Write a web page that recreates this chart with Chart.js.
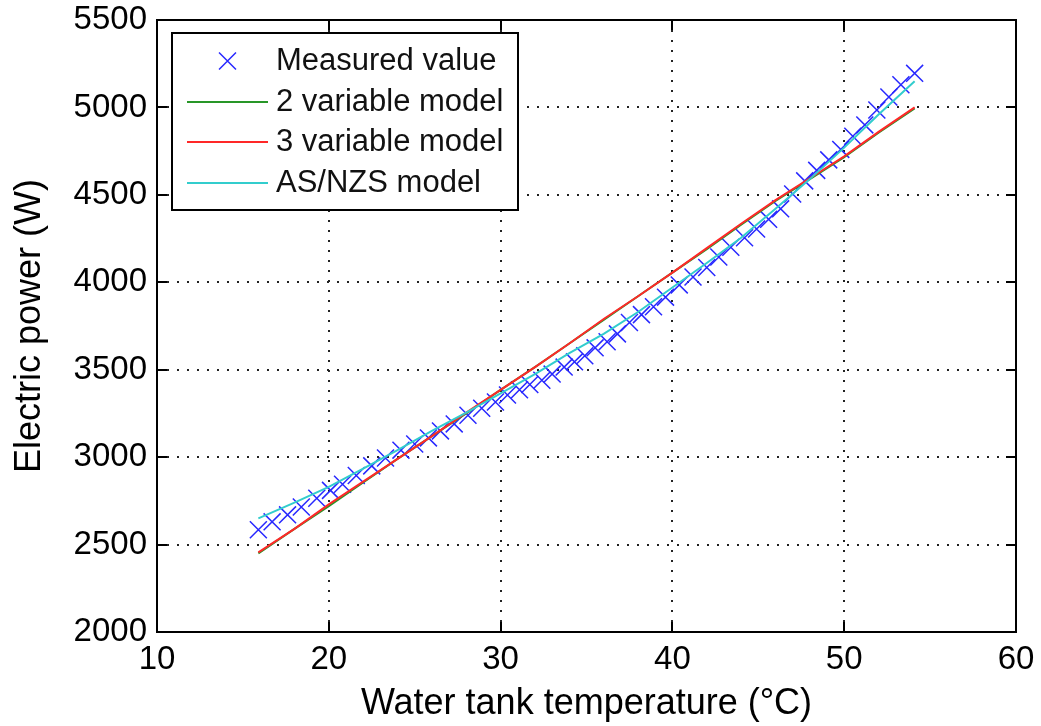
<!DOCTYPE html>
<html>
<head>
  <meta charset="utf-8">
  <title>Electric power vs water tank temperature</title>
  <script src="https://cdn.jsdelivr.net/npm/chart.js"></script>
  <style>
    body { margin: 0; background: #fff; }
  </style>
</head>
<body>
  <canvas id="chart" width="1041" height="726"></canvas>

  <script>
    // measured points (deg C, W)
    const measuredTemp = [15.9, 16.7, 17.6, 18.4, 19.3, 20.1, 20.8, 21.6, 22.5, 23.3,
      24.2, 25.0, 25.8, 26.5, 27.3, 28.1, 28.9, 29.7, 30.4, 31.1,
      31.7, 32.4, 33.0, 33.7, 34.3, 34.9, 35.5, 36.2, 36.8, 37.5,
      38.2, 38.9, 39.6, 40.4, 41.2, 42.0, 42.7, 43.4, 44.2, 44.9,
      45.6, 46.3, 47.0, 47.7, 48.4, 49.1, 49.8, 50.5, 51.2, 51.9,
      52.6, 53.3, 54.1];
    const measuredPower = [2585, 2630, 2670, 2715, 2765, 2810, 2845, 2895, 2950, 2995,
      3040, 3075, 3110, 3150, 3190, 3240, 3280, 3315, 3355, 3385,
      3415, 3440, 3475, 3515, 3545, 3580, 3625, 3660, 3705, 3770,
      3815, 3860, 3915, 3985, 4030, 4085, 4145, 4200, 4255, 4305,
      4360, 4420, 4505, 4580, 4640, 4700, 4760, 4835, 4900, 4985,
      5060, 5130, 5195];

    // model curves
    const modelTemp = [15.9, 18, 20, 22, 24, 26, 28, 30, 32, 34, 36, 38, 40, 42, 44, 46, 48, 50, 52, 54.1];
    const twoVarPower = [2450, 2590, 2720, 2855, 2990, 3120, 3250, 3385, 3515, 3650,
      3785, 3920, 4055, 4190, 4330, 4465, 4590, 4715, 4855, 4995];
    const threeVarPower = [2455, 2590, 2730, 2860, 2990, 3120, 3255, 3385, 3515, 3650,
      3790, 3920, 4055, 4195, 4335, 4470, 4595, 4720, 4860, 5000];
    const asnzsPower = [2650, 2740, 2830, 2935, 3040, 3150, 3255, 3365, 3475, 3595,
      3705, 3830, 3970, 4110, 4255, 4420, 4590, 4770, 4960, 5150];

    const xTicks = [10, 20, 30, 40, 50, 60];
    const yTicks = [2000, 2500, 3000, 3500, 4000, 4500, 5000, 5500];

    const FONT = '"Liberation Sans", Arial, Helvetica, sans-serif';

    const pts = (xs, ys) => xs.map((v, i) => ({ x: v, y: ys[i] }));

    // dotted grid, axis box with inward ticks, and the legend inside the plot
    const framePlugin = {
      id: 'frame',
      beforeDatasetsDraw(chart) {
        const { ctx, chartArea: a, scales: { x, y } } = chart;
        ctx.save();
        ctx.strokeStyle = '#222';
        ctx.lineWidth = 2;
        ctx.setLineDash([2, 8]);
        xTicks.slice(1, -1).forEach(v => {
          const px = Math.round(x.getPixelForValue(v));
          ctx.beginPath(); ctx.moveTo(px, a.bottom); ctx.lineTo(px, a.top); ctx.stroke();
        });
        yTicks.slice(1, -1).forEach(v => {
          const py = Math.round(y.getPixelForValue(v));
          ctx.beginPath(); ctx.moveTo(a.left, py); ctx.lineTo(a.right, py); ctx.stroke();
        });
        ctx.restore();
      },
      afterDatasetsDraw(chart) {
        const { ctx, chartArea: a, scales: { x, y } } = chart;
        ctx.save();
        ctx.strokeStyle = '#000';
        ctx.lineWidth = 2;
        ctx.setLineDash([]);
        ctx.strokeRect(a.left, a.top, a.right - a.left, a.bottom - a.top);
        const tl = 10;
        ctx.beginPath();
        xTicks.forEach(v => {
          const px = Math.round(x.getPixelForValue(v));
          ctx.moveTo(px, a.bottom); ctx.lineTo(px, a.bottom - tl);
          ctx.moveTo(px, a.top); ctx.lineTo(px, a.top + tl);
        });
        yTicks.forEach(v => {
          const py = Math.round(y.getPixelForValue(v));
          ctx.moveTo(a.left, py); ctx.lineTo(a.left + tl, py);
          ctx.moveTo(a.right, py); ctx.lineTo(a.right - tl, py);
        });
        ctx.stroke();

        // legend box
        const bx = a.left + 15, by = a.top + 13, bw = 346, bh = 177;
        ctx.fillStyle = '#fff';
        ctx.fillRect(bx, by, bw, bh);
        ctx.lineWidth = 2;
        ctx.strokeStyle = '#000';
        ctx.strokeRect(bx, by, bw, bh);

        const rows = [28, 69, 109, 150];
        ctx.font = '31px ' + FONT;
        ctx.textBaseline = 'middle';
        ctx.textAlign = 'left';
        chart.data.datasets.forEach((ds, i) => {
          const cy = by + rows[i];
          const x0 = bx + 15, x1 = bx + 96;
          ctx.strokeStyle = ds.borderColor;
          ctx.lineWidth = ds.borderWidth;
          ctx.beginPath();
          if (ds.showLine === false) {
            const cx = (x0 + x1) / 2, r = ds.pointRadius * Math.SQRT1_2;
            ctx.moveTo(cx - r, cy - r); ctx.lineTo(cx + r, cy + r);
            ctx.moveTo(cx - r, cy + r); ctx.lineTo(cx + r, cy - r);
          } else {
            ctx.moveTo(x0, cy); ctx.lineTo(x1, cy);
          }
          ctx.stroke();
          ctx.fillStyle = '#111';
          ctx.fillText(ds.label, bx + 104, cy);
        });
        ctx.restore();
      }
    };

    const lineDs = (label, color, ys, order) => ({
      label: label,
      data: pts(modelTemp, ys),
      showLine: true,
      borderColor: color,
      backgroundColor: color,
      borderWidth: 2,
      pointRadius: 0,
      tension: 0,
      order: order
    });

    new Chart(document.getElementById('chart'), {
      type: 'scatter',
      data: {
        datasets: [
          {
            label: 'Measured value',
            data: pts(measuredTemp, measuredPower),
            showLine: false,
            pointStyle: 'crossRot',
            pointRadius: 12,
            borderColor: 'rgb(40, 40, 255)',
            backgroundColor: 'rgb(40, 40, 255)',
            borderWidth: 1.5,
            order: 4
          },
          lineDs('2 variable model', 'rgb(40, 150, 40)', twoVarPower, 3),
          lineDs('3 variable model', 'rgb(255, 40, 40)', threeVarPower, 2),
          lineDs('AS/NZS model', 'rgb(50, 205, 205)', asnzsPower, 1)
        ]
      },
      options: {
        responsive: false,
        animation: false,
        devicePixelRatio: 1,
        layout: { padding: { left: 0, right: 25, top: 20, bottom: 0 } },
        plugins: {
          legend: { display: false },
          tooltip: { enabled: false }
        },
        scales: {
          x: {
            type: 'linear',
            min: 10, max: 60,
            afterBuildTicks: s => { s.ticks = xTicks.map(v => ({ value: v })); },
            afterFit: s => { s.height = 94; s.paddingLeft = 0; s.paddingRight = 0; },
            grid: { display: false, drawTicks: false },
            border: { display: false },
            ticks: { color: '#000', padding: 8, font: { family: FONT, size: 33 }, callback: v => String(v) },
            title: {
              display: true,
              text: 'Water tank temperature (°C)',
              color: '#000',
              font: { family: FONT, size: 36 },
              padding: { top: 0, bottom: 0 }
            }
          },
          y: {
            type: 'linear',
            min: 2000, max: 5500,
            afterBuildTicks: s => { s.ticks = yTicks.map(v => ({ value: v })); },
            afterFit: s => { s.width = 157; s.paddingTop = 0; s.paddingBottom = 0; },
            grid: { display: false, drawTicks: false },
            border: { display: false },
            ticks: { color: '#000', padding: 10, font: { family: FONT, size: 33 }, callback: v => String(v) },
            title: {
              display: true,
              text: 'Electric power (W)',
              color: '#000',
              font: { family: FONT, size: 36 },
              padding: { top: 8, bottom: 0 }
            }
          }
        }
      },
      plugins: [framePlugin]
    });
  </script>
</body>
</html>
